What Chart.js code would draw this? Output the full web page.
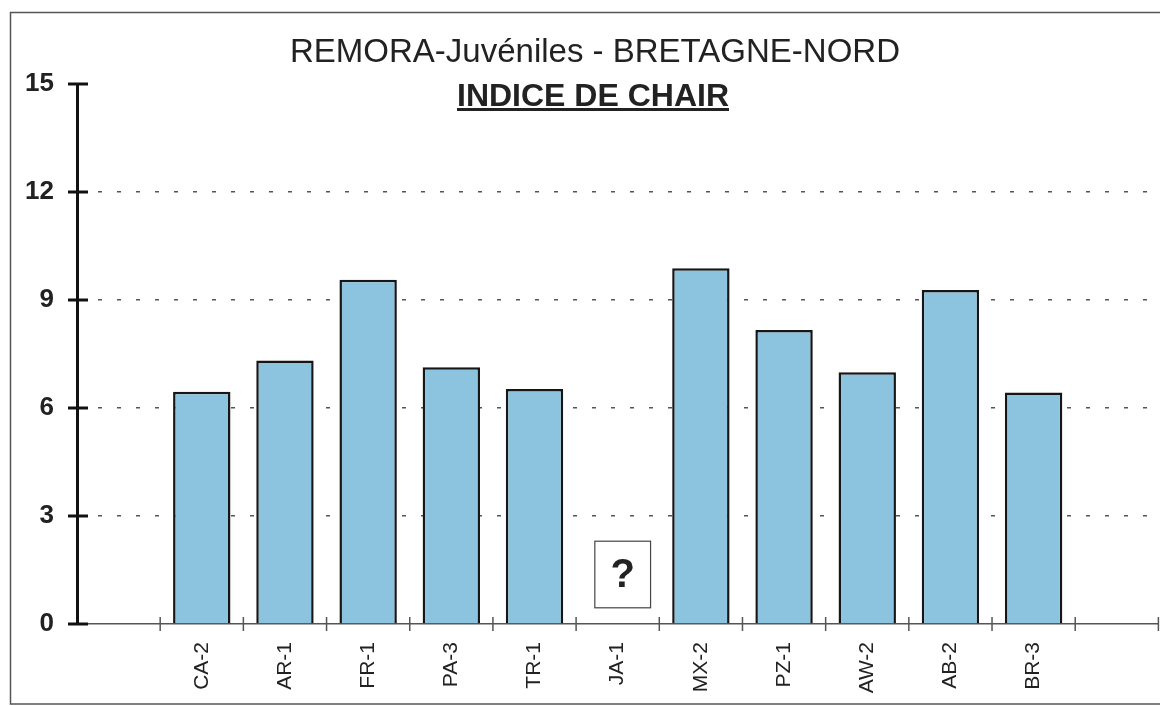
<!DOCTYPE html>
<html>
<head>
<meta charset="utf-8">
<script src="https://cdn.jsdelivr.net/npm/chart.js@4.4.1/dist/chart.umd.min.js"></script>
<style>
  body { margin: 0; background: #fff; }
  #wrap { width: 1160px; height: 706px; }
</style>
</head>
<body>
<div id="wrap"><canvas id="chart" width="1160" height="706"></canvas></div>
<script>
const stations = ['', 'CA-2', 'AR-1', 'FR-1', 'PA-3', 'TR-1', 'JA-1', 'MX-2', 'PZ-1', 'AW-2', 'AB-2', 'BR-3', ''];
const indiceChair = [null, 6.45, 7.32, 9.56, 7.13, 6.53, null, 9.88, 8.17, 6.99, 9.28, 6.43, null];
const yTicks = [0, 3, 6, 9, 12, 15];
const titre = 'REMORA-Juvéniles - BRETAGNE-NORD';
const sousTitre = 'INDICE DE CHAIR';
const stationManquante = 'JA-1';

const FONT = "'Liberation Sans', Arial, sans-serif";

// cadre + titres
const decorPlugin = {
    id: 'decor',
    afterDraw(chart) {
        const ctx = chart.ctx;
        ctx.save();
        ctx.strokeStyle = '#555';
        ctx.lineWidth = 1.5;
        ctx.beginPath();
        ctx.moveTo(1162, 12.5);
        ctx.lineTo(10.5, 12.5);
        ctx.lineTo(10.5, 704);
        ctx.lineTo(1162, 704);
        ctx.stroke();

        ctx.fillStyle = '#222';
        ctx.textAlign = 'center';
        ctx.textBaseline = 'alphabetic';
        ctx.font = '33px ' + FONT;
        ctx.fillText(titre, 595, 62);

        ctx.font = 'bold 32px ' + FONT;
        ctx.fillText(sousTitre, 593, 106);
        const w = ctx.measureText(sousTitre).width;
        ctx.fillRect(593 - w / 2, 108, w, 3);
        ctx.restore();
    }
};

// petites graduations qui traversent les axes + case "?"
const ticksPlugin = {
    id: 'crossTicks',
    afterDraw(chart) {
        const ctx = chart.ctx;
        const x = chart.scales.x;
        const y = chart.scales.y;
        const area = chart.chartArea;
        ctx.save();

        ctx.strokeStyle = '#111';
        ctx.lineWidth = 3;
        yTicks.forEach(v => {
            const py = y.getPixelForValue(v);
            ctx.beginPath();
            ctx.moveTo(area.left - 9, py);
            ctx.lineTo(area.left + 11, py);
            ctx.stroke();
        });

        ctx.strokeStyle = '#555';
        ctx.lineWidth = 1.5;
        const step = x.getPixelForValue(1) - x.getPixelForValue(0);
        for (let i = 0; i < stations.length; i++) {
            const px = x.getPixelForValue(i) + step / 2;
            ctx.beginPath();
            ctx.moveTo(px, area.bottom - 7);
            ctx.lineTo(px, area.bottom + 7);
            ctx.stroke();
        }

        const idx = stations.indexOf(stationManquante);
        const cx = x.getPixelForValue(idx) + 5;
        const bw = step * 0.67;
        const top = y.getPixelForValue(2.3);
        const bottom = y.getPixelForValue(0.45);
        ctx.fillStyle = '#fff';
        ctx.fillRect(cx - bw / 2, top, bw, bottom - top);
        ctx.strokeStyle = '#444';
        ctx.lineWidth = 1.2;
        ctx.strokeRect(cx - bw / 2, top, bw, bottom - top);
        ctx.fillStyle = '#222';
        ctx.font = 'bold 40px ' + FONT;
        ctx.textAlign = 'center';
        ctx.textBaseline = 'middle';
        ctx.fillText('?', cx, (top + bottom) / 2 + 1);
        ctx.restore();
    }
};

new Chart(document.getElementById('chart'), {
    type: 'bar',
    data: {
        labels: stations,
        datasets: [{
            data: indiceChair,
            backgroundColor: '#8cc3df',
            borderColor: '#161616',
            borderWidth: 2.5,
            barPercentage: 0.69,
            categoryPercentage: 1
        }]
    },
    options: {
        responsive: false,
        animation: false,
        layout: { padding: { top: 84, left: 0, right: 0, bottom: 0 } },
        plugins: {
            legend: { display: false },
            tooltip: { enabled: false }
        },
        scales: {
            x: {
                offset: true,
                grid: { display: false, drawTicks: false },
                border: { display: true, color: '#555', width: 1.5 },
                ticks: {
                    autoSkip: false,
                    maxRotation: 90,
                    minRotation: 90,
                    padding: 18,
                    color: '#222',
                    font: { family: FONT, size: 21 }
                },
                afterFit: s => { s.height = 82; }
            },
            y: {
                min: 0,
                max: 15,
                afterBuildTicks: s => { s.ticks = yTicks.map(v => ({ value: v })); },
                grid: {
                    drawTicks: false,
                    color: c => (c.tick && (c.tick.value === 0 || c.tick.value === 15)) ? 'rgba(0,0,0,0)' : '#555',
                    lineWidth: 1.5,
                    borderDash: [4, 15]
                },
                border: { display: true, color: '#111', width: 3, dash: [4, 15] },
                ticks: {
                    padding: 23,
                    color: '#222',
                    font: { family: FONT, size: 26, weight: 'bold' }
                },
                afterFit: s => { s.width = 77; }
            }
        }
    },
    plugins: [decorPlugin, ticksPlugin]
});
</script>
</body>
</html>
